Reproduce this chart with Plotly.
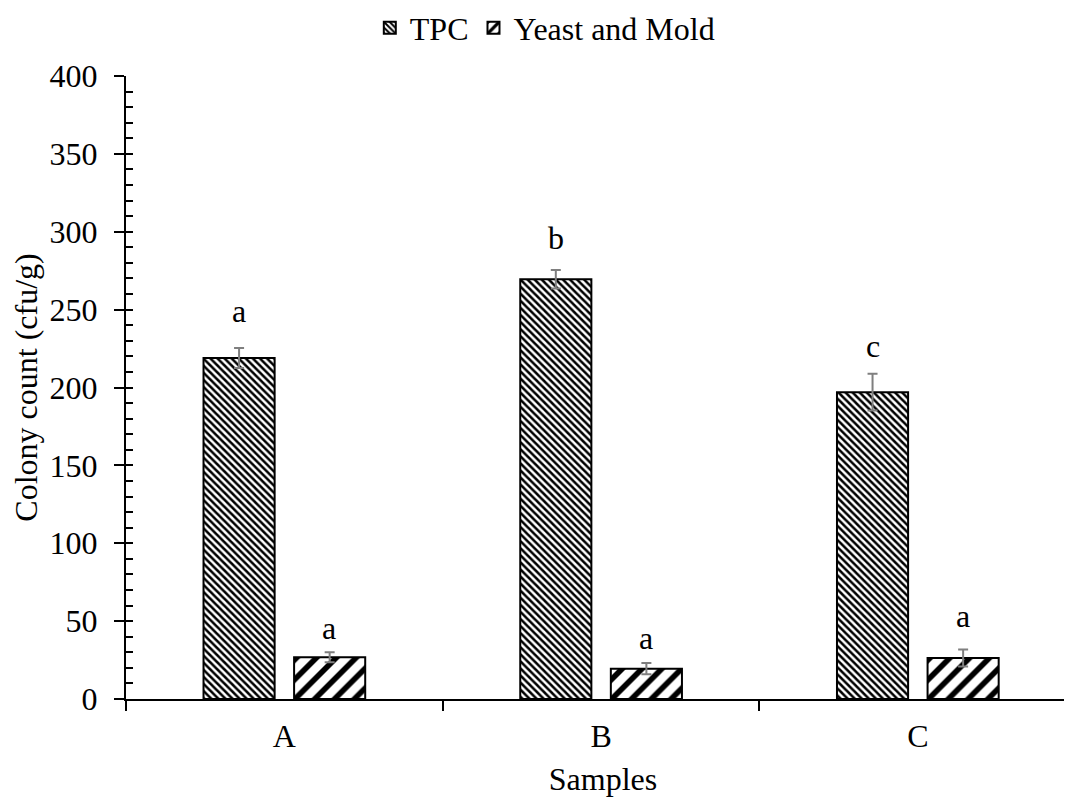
import plotly.graph_objects as go

samples = ["A", "B", "C"]
tpc = [219, 269.5, 197]
tpc_err = [6.4, 6.0, 11.8]
ym = [26.8, 19.5, 26.3]
ym_err = [3.2, 3.6, 5.5]
tpc_letters = ["a", "b", "c"]
ym_letters = ["a", "a", "a"]

FONT = "Liberation Serif, Times New Roman, serif"
FS = 32

fig = go.Figure()
fig.add_trace(go.Bar(
    name="TPC", x=samples, y=tpc,
    error_y=dict(type="data", array=tpc_err, color="#7f7f7f", thickness=2, width=5),
    marker=dict(color="white", line=dict(color="black", width=2),
                pattern=dict(shape="\\", size=5, solidity=0.5, fgcolor="black",
                             bgcolor="white", fgopacity=1, fillmode="replace")),
))
fig.add_trace(go.Bar(
    name="Yeast and Mold", x=samples, y=ym,
    error_y=dict(type="data", array=ym_err, color="#7f7f7f", thickness=2, width=5),
    marker=dict(color="white", line=dict(color="black", width=2),
                pattern=dict(shape="/", size=14, solidity=0.4, fgcolor="black",
                             bgcolor="white", fgopacity=1, fillmode="replace")),
))
# overlay axis for inside (minor) ticks
fig.add_trace(go.Scatter(x=[samples[0]], y=[None], yaxis="y2", showlegend=False, hoverinfo="skip"))

tpc_shift = [37, 32, 28]
ym_shift = [24, 25, 33]
for i, s in enumerate(samples):
    fig.add_annotation(x=s, y=tpc[i] + tpc_err[i], text=tpc_letters[i], showarrow=False,
                       xshift=-45, yshift=tpc_shift[i], yanchor="middle",
                       font=dict(family=FONT, size=FS, color="black"))
    fig.add_annotation(x=s, y=ym[i] + ym_err[i], text=ym_letters[i], showarrow=False,
                       xshift=45, yshift=ym_shift[i], yanchor="middle",
                       font=dict(family=FONT, size=FS, color="black"))

fig.update_layout(
    width=1072, height=797,
    margin=dict(l=118, r=0, t=68, b=106, autoexpand=False),
    paper_bgcolor="white", plot_bgcolor="white",
    font=dict(family=FONT, size=FS, color="black"),
    barmode="group", bargap=0.428, bargroupgap=0.215,
    showlegend=True,
    legend=dict(orientation="h", x=0.439, xanchor="center", y=0.975, yref="container", yanchor="middle",
                font=dict(family=FONT, size=FS), itemwidth=30, traceorder="normal",
                itemsizing="constant"),
    xaxis=dict(range=[-0.5, 2.512], showline=True, linecolor="black", linewidth=2,
               ticks="outside", ticklen=10, tickwidth=2, tickcolor="black", tickson="boundaries",
               showgrid=False, zeroline=False, automargin=False, ticklabelstandoff=8,
               title=dict(text="Samples", standoff=14, font=dict(family=FONT, size=FS))),
    yaxis=dict(range=[0, 400], dtick=50, showline=True, linecolor="black", linewidth=2,
               ticks="outside", ticklen=10, tickwidth=2, tickcolor="black",
               showgrid=False, zeroline=False, ticklabelstandoff=10, automargin=False,
               title=dict(text="Colony count (cfu/g)", standoff=3, font=dict(family=FONT, size=FS))),
    yaxis2=dict(range=[0, 400], overlaying="y", side="left", dtick=10,
                ticks="inside", ticklen=7, tickwidth=2, tickcolor="black",
                showticklabels=False, showgrid=False, zeroline=False, showline=False),
)

fig.write_html("out.html")
